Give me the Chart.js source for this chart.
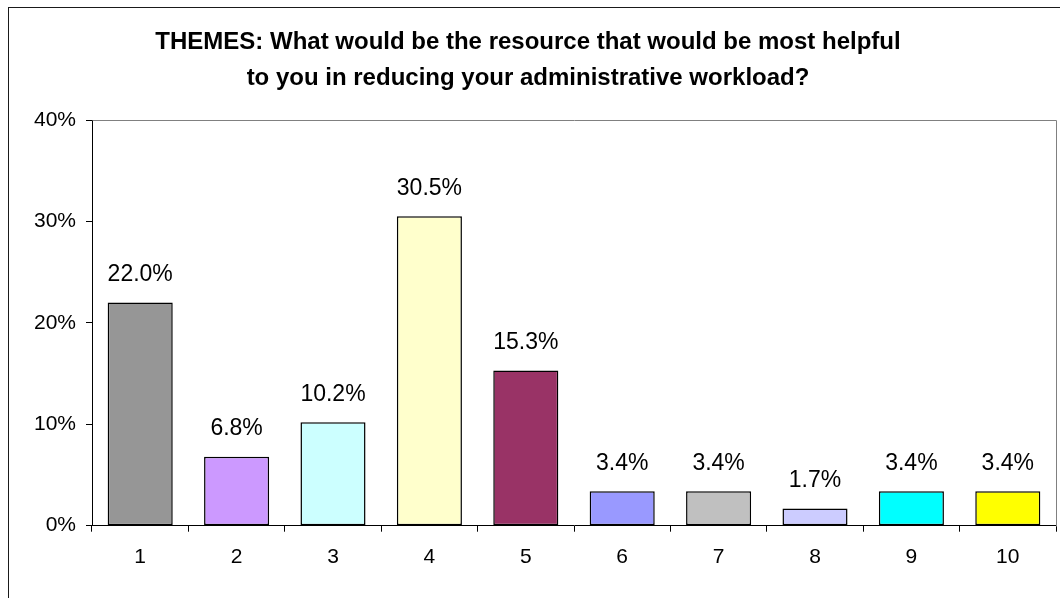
<!DOCTYPE html>
<html>
<head>
<meta charset="utf-8">
<script src="https://cdn.jsdelivr.net/npm/chart.js@4/dist/chart.umd.min.js"></script>
<style>
  html, body { margin: 0; padding: 0; background: #fff; overflow: hidden; }
  #wrap { position: relative; width: 1060px; height: 598px; overflow: hidden; }
  #frame { position: absolute; left: 8px; top: 7px; width: 1100px; height: 700px; border: 1px solid #1a1a1a; box-sizing: border-box; }
  canvas { position: absolute; left: 0; top: 0; }
</style>
</head>
<body>
<div id="wrap">
  <div id="frame"></div>
  <canvas id="c" width="1086" height="598"></canvas>
</div>
<script>
// Survey themes and share of responses (percent)
const categories = ['1', '2', '3', '4', '5', '6', '7', '8', '9', '10'];
const shares = [22.0, 6.8, 10.2, 30.5, 15.3, 3.4, 3.4, 1.7, 3.4, 3.4];
const barColors = ['#969696', '#CC99FF', '#CCFFFF', '#FFFFCC', '#993366',
                   '#9999FF', '#C0C0C0', '#CCCCFF', '#00FFFF', '#FFFF00'];
const yTicks = [0, 10, 20, 30, 40];
const titleLines = [
  'THEMES: What would be the resource that would be most helpful',
  'to you in reducing your administrative workload?'
];

const FONT = '"Liberation Sans", Arial, sans-serif';

// Grey frame around the plotting area (left and bottom are covered by the axes)
const plotFrame = {
  id: 'plotFrame',
  beforeDatasetsDraw(chart) {
    const { ctx, chartArea: a } = chart;
    ctx.save();
    ctx.strokeStyle = '#808080';
    ctx.lineWidth = 1;
    ctx.beginPath();
    ctx.moveTo(Math.round(a.left) + 0.5, Math.round(a.top) + 0.5);
    ctx.lineTo(Math.round(a.right) + 0.5, Math.round(a.top) + 0.5);
    ctx.lineTo(Math.round(a.right) + 0.5, Math.round(a.bottom) + 0.5);
    ctx.stroke();
    ctx.restore();
  }
};

// Percentage labels above each bar
const valueLabels = {
  id: 'valueLabels',
  afterDatasetsDraw(chart) {
    const { ctx } = chart;
    const meta = chart.getDatasetMeta(0);
    ctx.save();
    ctx.font = '23px ' + FONT;
    ctx.fillStyle = '#000';
    ctx.textAlign = 'center';
    ctx.textBaseline = 'middle';
    meta.data.forEach((bar, i) => {
      ctx.fillText(shares[i].toFixed(1) + '%', bar.x, bar.y - 28);
    });
    ctx.restore();
  }
};

new Chart(document.getElementById('c'), {
  type: 'bar',
  data: {
    labels: categories,
    datasets: [{
      data: shares,
      backgroundColor: barColors,
      borderColor: '#000',
      borderWidth: 1.5,
      borderSkipped: false,
      categoryPercentage: 1,
      barPercentage: 0.675
    }]
  },
  options: {
    responsive: false,
    animation: false,
    devicePixelRatio: 1,
    layout: { padding: { left: 0, right: 30, top: 0, bottom: 0 } },
    plugins: {
      legend: { display: false },
      tooltip: { enabled: false },
      title: {
        display: true,
        text: titleLines,
        color: '#000',
        font: { family: FONT, size: 24, weight: 'bold', lineHeight: 36 / 24 },
        padding: { top: 24, bottom: 24 }
      }
    },
    scales: {
      x: {
        offset: true,
        grid: { display: true, offset: true, drawOnChartArea: false, drawTicks: true, tickLength: 6, color: '#000' },
        border: { display: true, color: '#000', width: 1 },
        ticks: { color: '#000', padding: 13, font: { family: FONT, size: 21, lineHeight: 1.2 }, maxRotation: 0 },
        afterFit(scale) { scale.height = 598 - 525.7; }
      },
      y: {
        min: yTicks[0],
        max: yTicks[yTicks.length - 1],
        afterBuildTicks(scale) { scale.ticks = yTicks.map(v => ({ value: v })); },
        grid: { display: true, drawOnChartArea: false, drawTicks: true, tickLength: 6, color: '#000' },
        border: { display: true, color: '#000', width: 1 },
        ticks: {
          color: '#000',
          padding: 10,
          font: { family: FONT, size: 21 },
          callback: v => v + '%'
        },
        afterFit(scale) { scale.width = 92; }
      }
    }
  },
  plugins: [plotFrame, valueLabels]
});
</script>
</body>
</html>
